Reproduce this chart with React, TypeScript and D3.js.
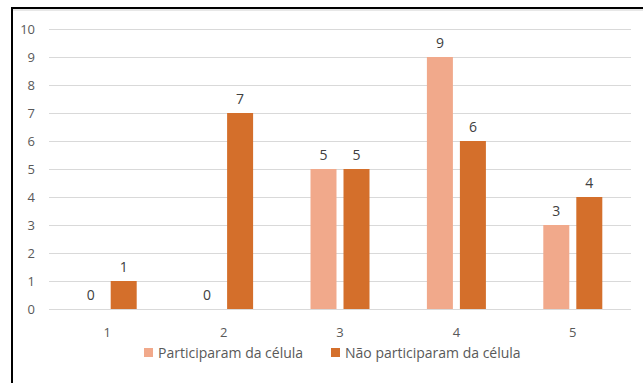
import React, { useEffect, useRef } from "react";
import * as d3 from "d3";

const categories = ["1", "2", "3", "4", "5"];
const participaram = [0, 0, 5, 9, 3];
const naoParticiparam = [1, 7, 5, 6, 4];
const seriesNames = ["Participaram da célula", "Não participaram da célula"];
const yTicks = [0, 1, 2, 3, 4, 5, 6, 7, 8, 9, 10];

const colors = ["#F1A98B", "#D46F2B"];
const W = 643;
const H = 383;

const App = () => {
  const ref = useRef<SVGSVGElement>(null);

  useEffect(() => {
    const svg = d3.select(ref.current);
    svg.selectAll("*").remove();

    const font = "'Open Sans', Lato, sans-serif";
    const x = d3.scaleBand().domain(categories).range([49, 631]);
    const y = d3.scaleLinear().domain([0, 10]).range([309, 29]);
    const barW = 26;
    const gap = 7;

    // frame
    svg.append("rect").attr("x", 0).attr("y", 0).attr("width", W).attr("height", H).attr("fill", "#fff");
    svg.append("line").attr("x1", 11).attr("x2", W).attr("y1", 8).attr("y2", 8)
      .attr("stroke", "#000").attr("stroke-width", 2);
    svg.append("line").attr("x1", 11).attr("x2", W).attr("y1", 10).attr("y2", 10)
      .attr("stroke", "#d0d0d0").attr("stroke-width", 1);
    svg.append("line").attr("x1", 12).attr("x2", 12).attr("y1", 7).attr("y2", H)
      .attr("stroke", "#000").attr("stroke-width", 2);

    // grid
    svg.selectAll("line.grid").data(yTicks).enter().append("line")
      .attr("class", "grid")
      .attr("x1", 49).attr("x2", 631)
      .attr("y1", d => y(d) + 0.5).attr("y2", d => y(d) + 0.5)
      .attr("stroke", "#d9d9d9").attr("stroke-width", 1);

    svg.selectAll("text.ytick").data(yTicks).enter().append("text")
      .attr("class", "ytick")
      .attr("x", 35).attr("y", d => y(d))
      .attr("dy", "0.35em")
      .attr("text-anchor", "end")
      .style("font-family", font).style("font-size", "13px").style("fill", "#595959")
      .text(d => d);

    svg.selectAll("text.xtick").data(categories).enter().append("text")
      .attr("class", "xtick")
      .attr("x", d => x(d)! + x.bandwidth() / 2).attr("y", 332)
      .attr("dy", "0.35em")
      .attr("text-anchor", "middle")
      .style("font-family", font).style("font-size", "13px").style("fill", "#595959")
      .text(d => d);

    const series = [participaram, naoParticiparam];
    series.forEach((vals, si) => {
      const off = si === 0 ? -gap / 2 - barW : gap / 2;
      const g = svg.append("g");
      g.selectAll("rect").data(vals).enter().append("rect")
        .attr("x", (d, i) => x(categories[i])! + x.bandwidth() / 2 + off)
        .attr("y", d => y(d))
        .attr("width", barW)
        .attr("height", d => y(0) - y(d))
        .attr("fill", colors[si]);
      g.selectAll("text").data(vals).enter().append("text")
        .attr("x", (d, i) => x(categories[i])! + x.bandwidth() / 2 + off + barW / 2)
        .attr("y", d => y(d) - 14)
        .attr("dy", "0.35em")
        .attr("text-anchor", "middle")
        .style("font-family", font).style("font-size", "14px").style("fill", "#404040")
        .text(d => d);
    });

    // legend
    const legendX = [144, 331];
    seriesNames.forEach((name, i) => {
      svg.append("rect").attr("x", legendX[i]).attr("y", 348).attr("width", 9).attr("height", 9)
        .attr("fill", colors[i]);
      svg.append("text").attr("x", legendX[i] + 14).attr("y", 353)
        .attr("dy", "0.35em")
        .style("font-family", font).style("font-size", "14px").style("fill", "#595959")
        .text(name);
    });
  }, []);

  return (
    <svg ref={ref} width={W} height={H} style={{ position: "absolute", left: 0, top: 0 }} />
  );
};

export default App;
